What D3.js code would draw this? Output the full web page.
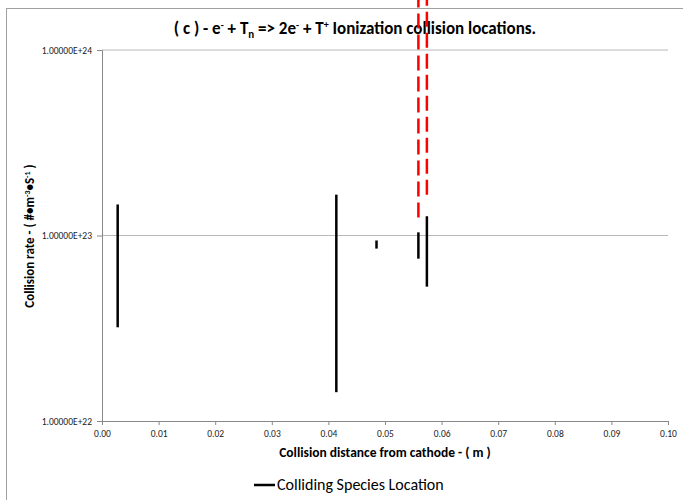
<!DOCTYPE html>
<html>
<head>
<meta charset="utf-8">
<script src="https://cdn.jsdelivr.net/npm/d3@7"></script>
<style>
  body { margin: 0; background: #fff; }
  text { font-family: Carlito, Lato, "Liberation Sans", sans-serif; }
</style>
</head>
<body>
<div id="plot"></div>
<script>
// collision locations (m) and the rate range seen at each one
let xPositions = [0.00277, 0.0414, 0.0485, 0.0559, 0.0574];
let rateLow    = [3.2e22, 1.43e22, 8.5e22, 7.5e22, 5.3e22];
let rateHigh   = [1.47e23, 1.66e23, 9.4e22, 1.04e23, 1.27e23];

// red dashed marker lines
let markerX    = [0.0559, 0.0574];
let markerLow  = [1.25e23, 1.66e23];
let markerHigh = [3e24, 3e24];

let xTicks = [0, 0.01, 0.02, 0.03, 0.04, 0.05, 0.06, 0.07, 0.08, 0.09, 0.10];
let yTicks = [1e22, 1e23, 1e24];

let width = 683, height = 500;
let margin = { top: 50, bottom: 79, left: 102, right: 15 };

let svg = d3.select('#plot')
  .append('svg')
  .attr('width', width)
  .attr('height', height);

// outer chart frame
svg.append('rect')
  .attr('x', 6.5).attr('y', 8.5)
  .attr('width', 800).attr('height', 800)
  .attr('fill', 'none')
  .attr('stroke', '#a0a0a0');

let xScale = d3.scaleLinear()
  .domain([0, 0.1])
  .range([margin.left, width - margin.right]);

let yScale = d3.scaleLog()
  .domain([1e22, 1e24])
  .range([height - margin.bottom, margin.top]);

// title
let title = svg.append('text')
  .attr('x', 355).attr('y', 34)
  .attr('text-anchor', 'middle')
  .style('font-size', '17px')
  .style('font-weight', 'bold');
title.append('tspan').text('( c ) - e');
title.append('tspan').attr('dy', -6).style('font-size', '10px').text('-');
title.append('tspan').attr('dy', 6).text(' + T');
title.append('tspan').attr('dy', 4).style('font-size', '11px').text('n');
title.append('tspan').attr('dy', -4).text(' => 2e');
title.append('tspan').attr('dy', -6).style('font-size', '10px').text('-');
title.append('tspan').attr('dy', 6).text(' + T');
title.append('tspan').attr('dy', -6).style('font-size', '10px').text('+');
title.append('tspan').attr('dy', 6).text(' Ionization collision locations.');

// gridlines
svg.append('g')
  .selectAll('line')
  .data(yTicks.slice(1))
  .enter()
  .append('line')
  .attr('x1', margin.left).attr('x2', width - margin.right)
  .attr('y1', d => yScale(d)).attr('y2', d => yScale(d))
  .attr('stroke', '#b8b8b8');

let yAxis = svg.append('g')
  .attr('transform', `translate(${margin.left},0)`)
  .call(d3.axisLeft(yScale).tickValues(yTicks).tickSize(5).tickPadding(5)
    .tickFormat(d => d3.format('.5e')(d).replace('e+', 'E+')));

let xAxis = svg.append('g')
  .attr('transform', `translate(0,${height - margin.bottom})`)
  .call(d3.axisBottom(xScale).tickValues(xTicks).tickSize(4).tickPadding(5)
    .tickFormat(d3.format('.2f')));

svg.selectAll('.domain').attr('stroke', '#888');
svg.selectAll('.tick line').attr('stroke', '#888');
svg.selectAll('.tick text')
  .attr('fill', '#222')
  .style('font-size', '9.5px')
  .style('font-family', 'Carlito, Lato, "Liberation Sans", sans-serif');

// black range lines
svg.append('g')
  .selectAll('line')
  .data(xPositions)
  .enter()
  .append('line')
  .attr('x1', d => xScale(d)).attr('x2', d => xScale(d))
  .attr('y1', (d, i) => yScale(rateLow[i]))
  .attr('y2', (d, i) => yScale(rateHigh[i]))
  .attr('stroke', '#000')
  .attr('stroke-width', 2.5);

// red dashed markers
svg.append('g')
  .selectAll('line')
  .data(markerX)
  .enter()
  .append('line')
  .attr('x1', d => xScale(d)).attr('x2', d => xScale(d))
  .attr('y1', (d, i) => yScale(markerLow[i]))
  .attr('y2', (d, i) => yScale(markerHigh[i]))
  .attr('stroke', '#ff0000')
  .attr('stroke-width', 2.5)
  .attr('stroke-dasharray', '15,6');

// x axis title
svg.append('text')
  .attr('x', (margin.left + width - margin.right) / 2)
  .attr('y', 457)
  .attr('text-anchor', 'middle')
  .style('font-size', '13.5px')
  .style('font-weight', 'bold')
  .text('Collision distance from cathode - ( m )');

// y axis title
let yTitle = svg.append('text')
  .attr('transform', 'translate(34,236) rotate(-90)')
  .attr('text-anchor', 'middle')
  .style('font-size', '13px')
  .style('font-weight', 'bold');
yTitle.append('tspan').text('Collision rate - ( #•m');
yTitle.append('tspan').attr('dy', -4).style('font-size', '8px').text('-3');
yTitle.append('tspan').attr('dy', 4).text('•S');
yTitle.append('tspan').attr('dy', -4).style('font-size', '8px').text('-1');
yTitle.append('tspan').attr('dy', 4).text(' )');

// legend
svg.append('line')
  .attr('x1', 254).attr('x2', 275)
  .attr('y1', 485).attr('y2', 485)
  .attr('stroke', '#000')
  .attr('stroke-width', 2.5);
svg.append('text')
  .attr('x', 277).attr('y', 490)
  .style('font-size', '16px')
  .text('Colliding Species Location');
</script>
</body>
</html>
